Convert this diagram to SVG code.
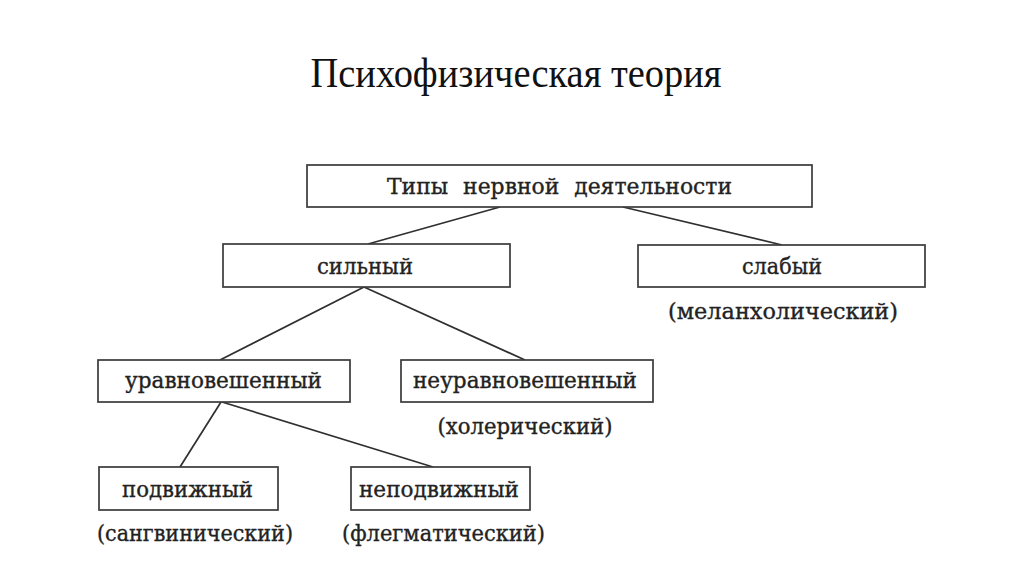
<svg xmlns="http://www.w3.org/2000/svg" width="1024" height="574" viewBox="0 0 1024 574">
<style>
.box{fill:#fff;stroke:#3a3a3a;stroke-width:1.7}
.t{font-family:"DejaVu Serif","Liberation Serif",serif;font-size:22px;fill:#222;stroke:#222;stroke-width:0.35;text-anchor:middle}
.title{font-family:"Liberation Serif","Times New Roman",serif;font-size:42px;fill:#111;text-anchor:middle}
.c{stroke:#2f2f2f;stroke-width:1.7;fill:none}
</style>
<rect width="1024" height="574" fill="#fff"/>
<text class="title" x="516" y="87" textLength="411" lengthAdjust="spacingAndGlyphs">Психофизическая теория</text>
<g id="connectors">
<line class="c" x1="500" y1="207" x2="368" y2="244"/>
<line class="c" x1="623" y1="207" x2="782" y2="245"/>
<line class="c" x1="364" y1="287" x2="220" y2="360"/>
<line class="c" x1="364" y1="287" x2="525" y2="360"/>
<line class="c" x1="221" y1="402" x2="180" y2="467"/>
<line class="c" x1="222" y1="402" x2="433" y2="467"/>
</g>
<g id="n-types">
<rect class="box" x="307" y="165" width="505" height="42"/>
<text class="t" x="559.5" y="194" textLength="345" lengthAdjust="spacingAndGlyphs" word-spacing="8">Типы нервной деятельности</text>
</g>
<g id="n-strong">
<rect class="box" x="223" y="244" width="287" height="43"/>
<text class="t" x="365" y="274" textLength="96" lengthAdjust="spacingAndGlyphs">сильный</text>
</g>
<g id="n-weak">
<rect class="box" x="638" y="245" width="287" height="42"/>
<text class="t" x="782" y="274" textLength="80" lengthAdjust="spacingAndGlyphs">слабый</text>
<text class="t" x="783" y="319" textLength="230" lengthAdjust="spacingAndGlyphs">(меланхолический)</text>
</g>
<g id="n-balanced">
<rect class="box" x="98" y="360" width="252" height="42"/>
<text class="t" x="223.5" y="388" textLength="197" lengthAdjust="spacingAndGlyphs">уравновешенный</text>
</g>
<g id="n-unbalanced">
<rect class="box" x="401" y="360" width="252" height="42"/>
<text class="t" x="525" y="388" textLength="224" lengthAdjust="spacingAndGlyphs">неуравновешенный</text>
<text class="t" x="525" y="434" textLength="175" lengthAdjust="spacingAndGlyphs">(холерический)</text>
</g>
<g id="n-mobile">
<rect class="box" x="99" y="467" width="179" height="43"/>
<text class="t" x="187.5" y="497" textLength="131" lengthAdjust="spacingAndGlyphs">подвижный</text>
<text class="t" x="195" y="541" textLength="196" lengthAdjust="spacingAndGlyphs">(сангвинический)</text>
</g>
<g id="n-immobile">
<rect class="box" x="351" y="467" width="179" height="43"/>
<text class="t" x="439" y="497" textLength="160" lengthAdjust="spacingAndGlyphs">неподвижный</text>
<text class="t" x="443.5" y="541" textLength="203" lengthAdjust="spacingAndGlyphs">(флегматический)</text>
</g>
</svg>
